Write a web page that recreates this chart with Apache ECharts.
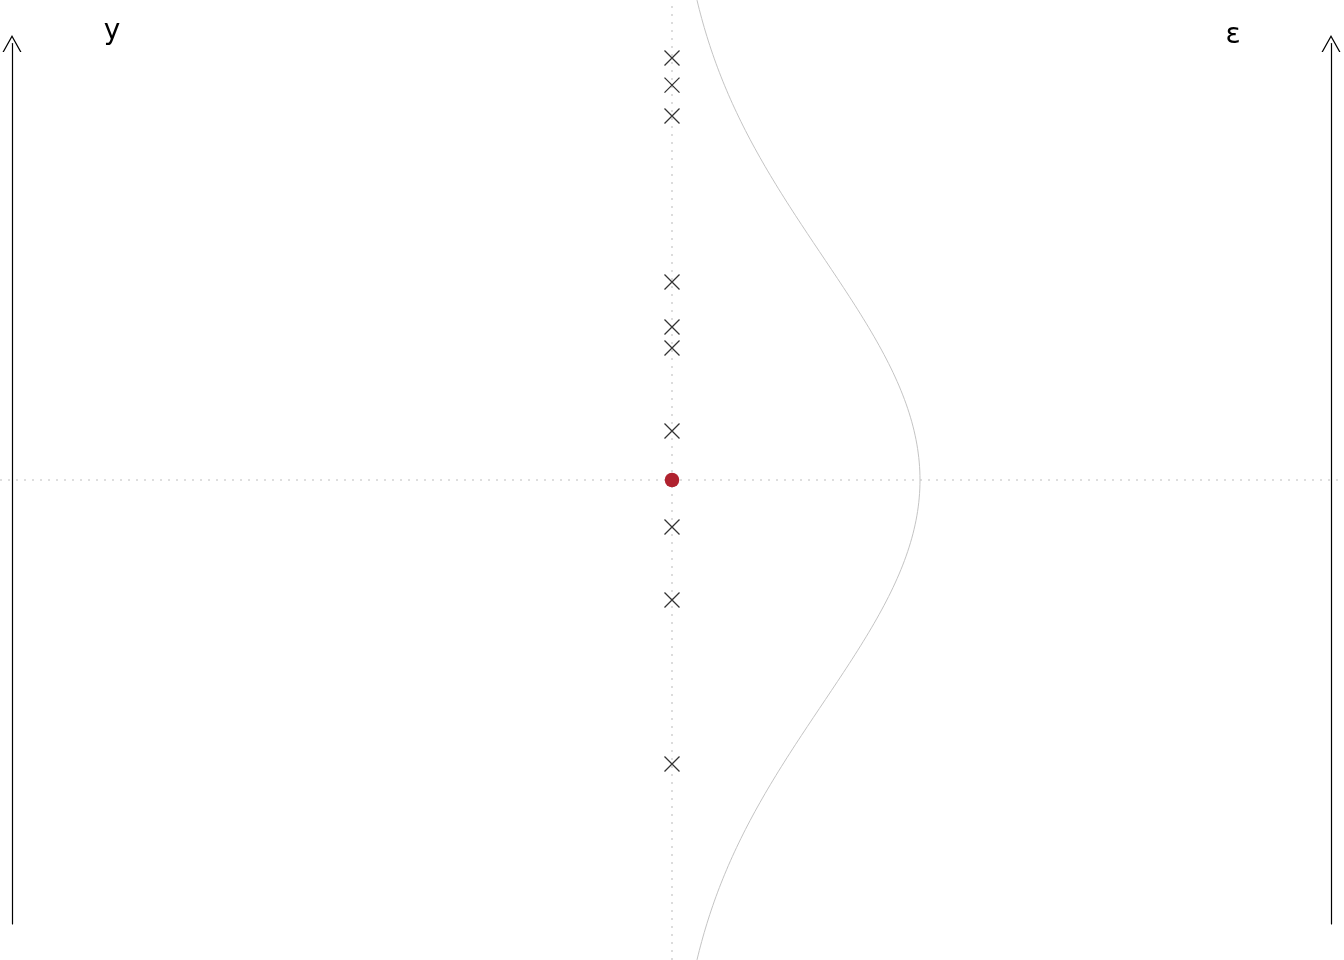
<!DOCTYPE html>
<html>
<head>
<meta charset="utf-8">
<script src="https://cdn.jsdelivr.net/npm/echarts@6/dist/echarts.min.js"></script>
<style>html,body{margin:0;padding:0;background:#fff;}#c{width:1344px;height:960px;}</style>
</head>
<body>
<div id="c"></div>
<script>
// Observed y values (crosses), in units of sigma
const observedY = [1.884, 1.763, 1.625, 0.884, 0.683, 0.589, 0.219, -0.210, -0.536, -1.268];
// Mean (red dot)
const meanPoint = [0, 0];
// Error distribution parameters (normal density drawn sideways)
const mu = 0;
const sigma = 1;
const axisLabels = ['y', 'ε'];

function pdf(v) {
  return Math.exp(-((v - mu) * (v - mu)) / (2 * sigma * sigma)) / (sigma * Math.sqrt(2 * Math.PI));
}
const curveYs = [];
for (let v = -2.3; v <= 2.3001; v += 0.02) curveYs.push(+v.toFixed(2));
const curve = curveYs.map(v => [pdf(v), v]);

const chart = echarts.init(document.getElementById('c'));
const arrowPath = 'path://M9.5,0 L19,17 L17.6,17 L9.5,2.5 L1.4,17 L0,17 Z';
const axisCommon = {
  axisLine: {show: true, symbol: ['none', arrowPath], symbolSize: [19, 17], lineStyle: {color: '#000', width: 1.2}},
  axisTick: {show: false}, axisLabel: {show: false}, splitLine: {show: false}
};
chart.setOption({
  animation: false,
  backgroundColor: '#fff',
  grid: [
    {left: 0, right: 0, top: 0, bottom: 0},
    {left: 12, right: 13, top: 43.5, bottom: 36}
  ],
  xAxis: [
    {gridIndex: 0, type: 'value', min: -1.081, max: 1.081, show: false},
    {gridIndex: 1, type: 'value', min: 0, max: 1, show: false}
  ],
  yAxis: [
    {gridIndex: 0, type: 'value', min: -2.142857, max: 2.142857, show: false},
    Object.assign({gridIndex: 1, type: 'value', min: 0, max: 1, position: 'left'}, axisCommon),
    Object.assign({gridIndex: 1, type: 'value', min: 0, max: 1, position: 'right'}, axisCommon)
  ],
  graphic: [
    {type: 'text', x: 112, y: 32, style: {text: axisLabels[0], font: '28px "DejaVu Sans"', fill: '#000', textAlign: 'center', textVerticalAlign: 'middle'}},
    {type: 'text', x: 1233, y: 36, style: {text: axisLabels[1], font: '28px "DejaVu Sans"', fill: '#000', textAlign: 'center', textVerticalAlign: 'middle'}}
  ],
  series: [
    {
      type: 'line', xAxisIndex: 0, yAxisIndex: 0, data: curve, showSymbol: false, smooth: false,
      lineStyle: {color: '#c4c4c4', width: 1}, silent: true, z: 1,
      markLine: {
        silent: true, symbol: 'none', label: {show: false}, z: 1,
        lineStyle: {color: '#d4d4d4', width: 1.6, type: [2, 6]},
        data: [{xAxis: 0}, {yAxis: 0}]
      }
    },
    {
      type: 'scatter', xAxisIndex: 0, yAxisIndex: 0,
      data: observedY.map(v => [0, v]),
      symbol: 'path://M0,0 L10,10 M10,0 L0,10', symbolSize: 15,
      itemStyle: {color: 'none', borderColor: '#333', borderWidth: 1.3, opacity: 1}, z: 3
    },
    {
      type: 'scatter', xAxisIndex: 0, yAxisIndex: 0,
      data: [meanPoint], symbol: 'circle', symbolSize: 14.5,
      itemStyle: {color: '#b0222f', opacity: 1}, z: 4
    }
  ]
});
</script>
</body>
</html>
